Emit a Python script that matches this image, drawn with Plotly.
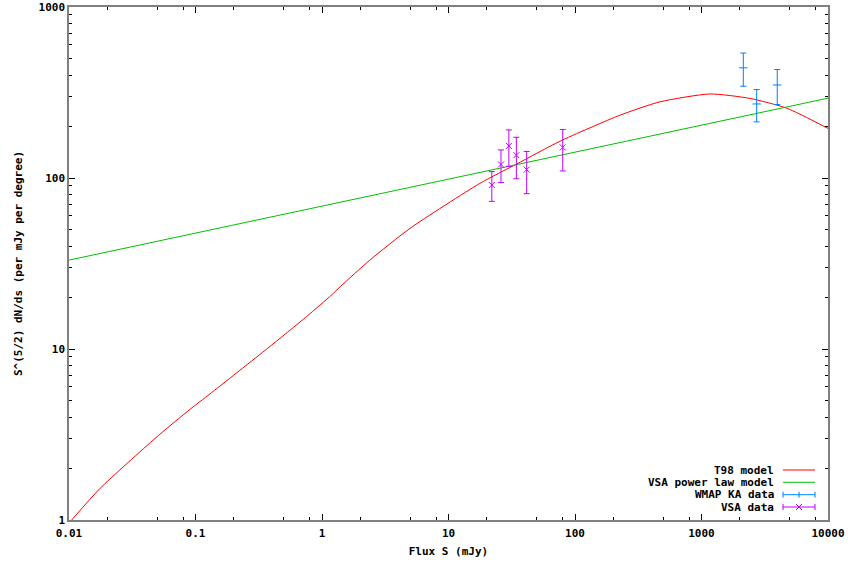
import plotly.graph_objects as go

# T98 model curve
t98_s = [0.0105, 0.0176, 0.0479, 0.0905, 0.130, 0.372, 0.757, 1.19, 1.39, 2.39, 4.97,
         17.7, 34.8, 76, 227, 470, 1167, 2415, 4720, 10000]
t98_v = [1.0, 1.53, 3.0, 4.44, 5.46, 10.1, 15.5, 20.7, 23.1, 33.1, 50.8,
         93, 121, 164, 233, 279, 310, 292, 256, 195]

# VSA power law model
pl_s = [0.01, 0.1, 1, 10, 100, 1000, 10000]
pl_v = [33.1, 47.6, 68.5, 98.6, 142, 204, 293]

# WMAP KA data
wmap_s = [2140, 2730, 3970]
wmap_v = [441, 271, 350]
wmap_err = [97, 58, 81]

# VSA data
vsa_s = [22, 26, 30, 34.4, 41.5, 80]
vsa_v = [91, 120, 154, 136, 112, 151]
vsa_err = [18, 26, 37, 37, 31, 41]

x_ticks = [0.01, 0.1, 1, 10, 100, 1000, 10000]
x_labels = ["0.01", "0.1", "1", "10", "100", "1000", "10000"]
y_ticks = [1, 10, 100, 1000]
y_labels = ["1", "10", "100", "1000"]

legend_names = ["T98 model", "VSA power law model", "WMAP KA data", "VSA data"]
RED, GREEN, BLUE, MAG = "#ff0000", "#00c000", "#0080ff", "#c000ff"

FONT = dict(family="DejaVu Sans Mono", size=11, color="black", weight="bold")

fig = go.Figure()
fig.add_trace(go.Scatter(x=t98_s, y=t98_v, mode="lines", name=legend_names[0],
                         line=dict(color=RED, width=1, shape="spline", smoothing=0.6)))
fig.add_trace(go.Scatter(x=pl_s, y=pl_v, mode="lines", name=legend_names[1],
                         line=dict(color=GREEN, width=1)))
fig.add_trace(go.Scatter(x=wmap_s, y=wmap_v, mode="markers", name=legend_names[2],
                         marker=dict(symbol="line-ew", size=6, color=BLUE,
                                     line=dict(color=BLUE, width=1)),
                         error_y=dict(type="data", array=wmap_err, visible=True,
                                      color=BLUE, thickness=1, width=3)))
fig.add_trace(go.Scatter(x=vsa_s, y=vsa_v, mode="markers", name=legend_names[3],
                         marker=dict(symbol="x-thin", size=6, color=MAG,
                                     line=dict(color=MAG, width=1)),
                         error_y=dict(type="data", array=vsa_err, visible=True,
                                      color=MAG, thickness=1, width=3)))

W, H = 848, 565
L, R, T, B = 69, 20, 7, 45
pw, ph = W - L - R, H - T - B

def px(xp):
    return (xp - L) / pw

def py(yp):
    return (H - B - yp) / ph

# manual gnuplot-style key (text right-aligned, sample on the right)
rows = [470, 482.3, 494.7, 507]
colors = [RED, GREEN, BLUE, MAG]
shapes = []
annotations = []
for i, (name, c, yr) in enumerate(zip(legend_names, colors, rows)):
    annotations.append(dict(xref="paper", yref="paper", x=px(776), y=py(yr),
                            text=name, showarrow=False, xanchor="right",
                            yanchor="middle", font=FONT))
    shapes.append(dict(type="line", xref="paper", yref="paper",
                       x0=px(783), x1=px(815), y0=py(yr), y1=py(yr),
                       line=dict(color=c, width=1)))
    if i >= 2:
        for xc in (783, 815):
            shapes.append(dict(type="line", xref="paper", yref="paper",
                               x0=px(xc), x1=px(xc), y0=py(yr - 3), y1=py(yr + 3),
                               line=dict(color=c, width=1)))
        if i == 2:
            shapes.append(dict(type="line", xref="paper", yref="paper",
                               x0=px(799), x1=px(799), y0=py(yr - 3), y1=py(yr + 3),
                               line=dict(color=c, width=1)))
        else:
            shapes.append(dict(type="line", xref="paper", yref="paper",
                               x0=px(796), x1=px(802), y0=py(yr - 3), y1=py(yr + 3),
                               line=dict(color=c, width=1)))
            shapes.append(dict(type="line", xref="paper", yref="paper",
                               x0=px(796), x1=px(802), y0=py(yr + 3), y1=py(yr - 3),
                               line=dict(color=c, width=1)))

x_minor = [m * 10 ** e for e in range(-2, 4) for m in (2, 5, 8)]

axis_common = dict(showgrid=False, zeroline=False, showline=True, linecolor="#808080",
                   linewidth=1.5, mirror="allticks", ticks="inside", ticklen=6,
                   tickcolor="black", tickwidth=1, tickfont=FONT, type="log")

fig.update_layout(
    width=W, height=H, margin=dict(l=L, r=R, t=T, b=B, autoexpand=False),
    paper_bgcolor="white", plot_bgcolor="white", showlegend=False,
    shapes=shapes, annotations=annotations,
    xaxis=dict(axis_common, range=[-2, 4], tickmode="array", tickvals=x_ticks,
               ticktext=x_labels, ticklabelstandoff=2,
               minor=dict(tickmode="array", tickvals=x_minor, ticks="inside",
                          ticklen=3, tickcolor="black"),
               title=dict(text="Flux S (mJy)", font=FONT, standoff=8)),
    yaxis=dict(axis_common, range=[0, 3], tickmode="array", tickvals=y_ticks,
               ticktext=y_labels,
               minor=dict(dtick="D1", ticks="inside", ticklen=3, tickcolor="black"),
               title=dict(text="S^(5/2) dN/ds (per mJy per degree)", font=FONT,
                          standoff=14)),
)

fig.write_html("out.html", config={"displayModeBar": False},
               post_script="document.body.style.margin='0';document.body.style.overflow='hidden';")
